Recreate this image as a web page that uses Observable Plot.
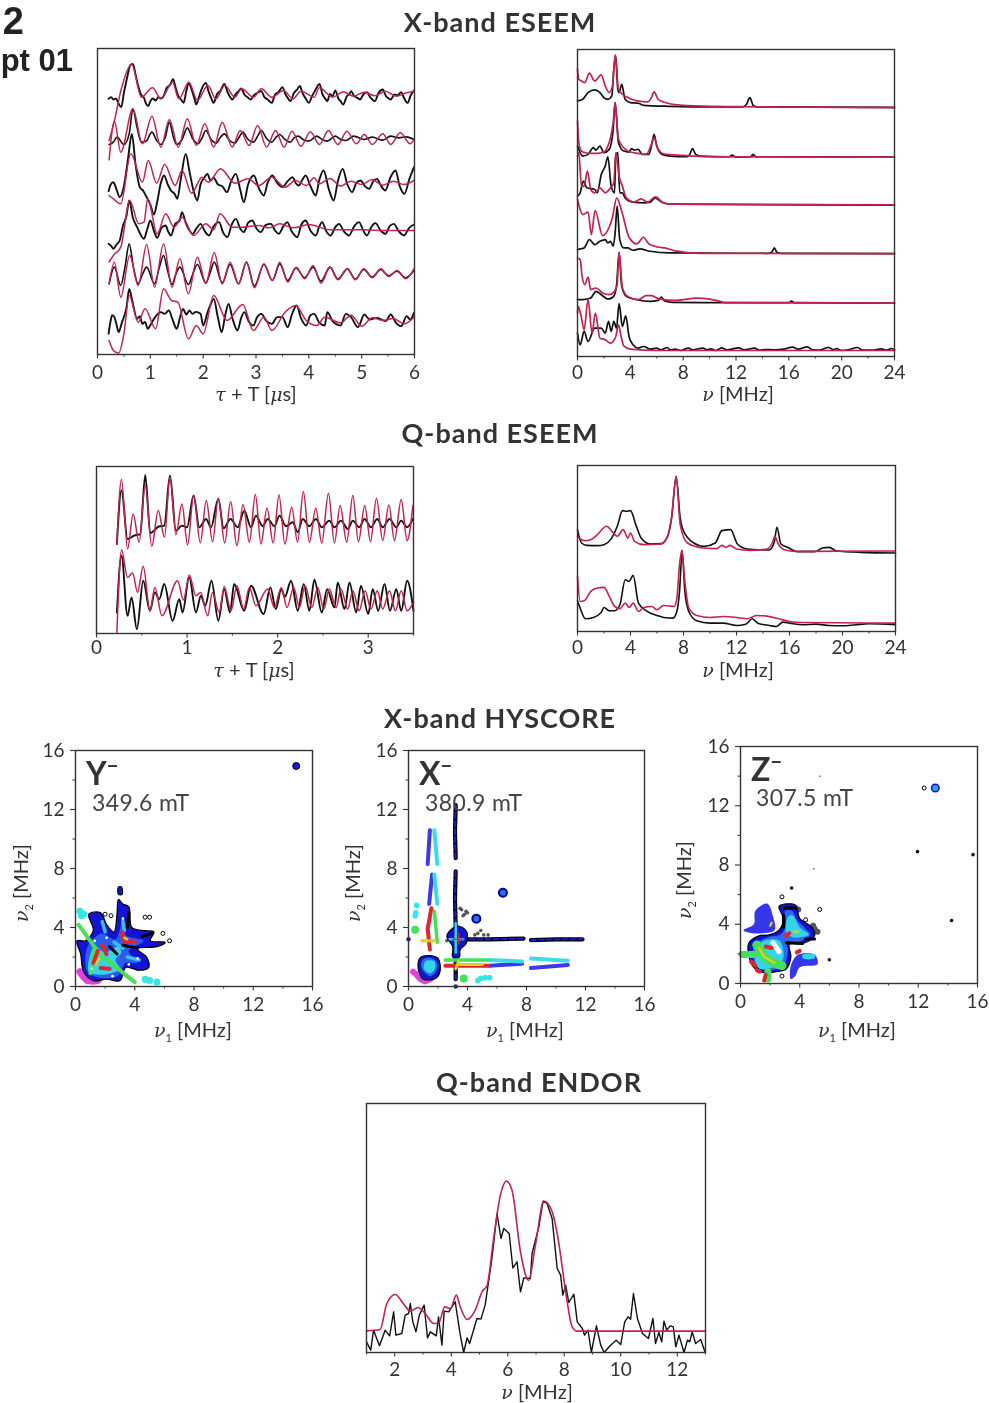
<!DOCTYPE html>
<html><head><meta charset="utf-8">
<script src="https://cdn.jsdelivr.net/npm/d3@7"></script>
<script src="https://cdn.jsdelivr.net/npm/@observablehq/plot@0.6"></script>
<style>
html,body{margin:0;padding:0;background:#fff;width:989px;height:1403px;overflow:hidden}
#page{position:relative;width:989px;height:1403px;overflow:hidden;font-family:Lato,sans-serif;color:#333;filter:blur(.4px)}
#page svg{position:absolute;background:transparent;overflow:visible}
.t{position:absolute;white-space:nowrap;line-height:1}
.title{font-size:27px;font-weight:700;color:#333;transform:translateX(-50%);letter-spacing:1px}
.lab{font-size:20px;color:#333;transform:translateX(-50%)}
.lab i{font-family:"DejaVu Serif","Liberation Serif",serif;font-size:19px}
.lab sub{font-size:11px;vertical-align:-5px}
.rot{transform:translate(-50%,-50%) rotate(-90deg)}
.big{font-size:32px;font-weight:700;color:#333}
.big sup{font-size:20px;vertical-align:12px;line-height:0}
.field{font-size:23px;color:#444;letter-spacing:.4px}
</style></head><body><div id="page"></div>
<script>
// ---------- X-band ESEEM time traces [tau+T us, intensity] ----------
const aBlack1=[.21,767,.26,772,.3,765,.35,768,.4,752,.45,742,.5,785,.56,830,.62,868,.67,872,.72,840,.78,800,.83,778,.88,770,.92,752,.96,745,1,760,1.05,768,1.1,762,1.15,772,1.2,768,1.26,778,1.31,800,1.37,808,1.43,826,1.48,800,1.53,775,1.58,765,1.63,755,1.68,790,1.73,815,1.78,795,1.83,770,1.87,750,1.92,772,1.98,800,2.05,815,2.1,790,2.15,770,2.2,755,2.26,780,2.33,792,2.4,812,2.46,788,2.5,775,2.55,765,2.62,782,2.67,790,2.72,798,2.78,780,2.84,772,2.9,765,2.96,778,3.03,785,3.1,790,3.16,772,3.22,765,3.3,755,3.36,780,3.43,788,3.5,802,3.56,780,3.6,770,3.65,760,3.72,785,3.78,795,3.83,806,3.88,785,3.94,768,4,755,4.06,775,4.13,795,4.2,812,4.26,780,4.3,770,4.35,760,4.4,782,4.45,775,4.5,792,4.56,768,4.6,760,4.65,750,4.72,775,4.77,782,4.8,790,4.86,775,4.92,770,4.97,765,5.03,780,5.1,787,5.16,772,5.2,765,5.25,760,5.32,785,5.4,795,5.46,775,5.5,770,5.55,765,5.62,780,5.68,778,5.75,787,5.8,770,5.87,755,5.93,778,5.99,792];
const aRed1=[.22,642,.32,700,.44,790,.65,870,.83,772,1.04,800,1.2,767,1.42,817,1.54,767,1.73,817,1.89,762,2.09,807,2.24,767,2.41,807,2.6,772,2.73,797,2.95,772,3.1,797,3.3,772,3.52,792,3.7,767,3.85,790,4.1,772,4.2,800,4.45,772,4.65,788,4.85,775,5.05,787,5.25,776,5.45,790,5.65,775,5.85,785,5.99,790];
const aBlack2=[.22,630,.3,637,.37,652,.5,630,.6,662,.67,737,.75,680,.83,637,.92,640,1.03,667,1.12,642,1.2,630,1.28,650,1.36,697,1.44,650,1.5,630,1.6,645,1.7,680,1.8,648,1.9,632,1.98,650,2.05,672,2.15,645,2.25,634,2.32,650,2.4,662,2.5,642,2.6,634,2.68,652,2.75,667,2.85,645,2.95,637,3.03,655,3.1,672,3.2,648,3.3,637,3.38,652,3.45,660,3.55,645,3.65,637,3.72,650,3.8,655,3.9,644,4,640,4.15,655,4.25,645,4.35,640,4.5,655,4.6,646,4.7,642,4.85,655,5.05,645,5.2,652,5.4,643,5.55,655,5.7,650,5.85,653,5.99,645];
const aRed2=[.22,584,.32,700,.44,607,.67,737,.85,632,1.03,715,1.2,622,1.36,705,1.53,622,1.7,707,1.87,627,2.03,692,2.2,622,2.36,697,2.55,622,2.7,672,2.87,627,3.03,687,3.2,622,3.37,672,3.53,622,3.68,670,3.85,625,4.03,668,4.2,630,4.37,672,4.55,630,4.72,670,4.9,632,5.05,660,5.2,630,5.4,662,5.55,630,5.73,665,5.92,632,5.99,645];
const aBlack3=[.21,490,.25,510,.3,517,.35,500,.42,472,.5,505,.58,590,.65,662,.72,570,.8,502,.87,490,.93,472,1,450,1.07,420,1.12,450,1.2,515,1.26,537,1.33,510,1.4,490,1.46,482,1.51,467,1.58,530,1.67,602,1.74,550,1.82,490,1.89,462,1.95,510,2.02,530,2.08,542,2.14,522,2.2,530,2.28,510,2.36,505,2.45,487,2.53,520,2.62,542,2.7,495,2.77,457,2.85,510,2.96,537,3.05,500,3.15,477,3.22,515,3.31,537,3.4,515,3.5,502,3.6,520,3.69,532,3.75,515,3.81,507,3.88,525,3.94,537,4.03,505,4.13,477,4.2,525,4.28,552,4.38,495,4.47,462,4.55,520,4.64,557,4.73,510,4.82,487,4.9,515,4.98,522,5.06,505,5.14,497,5.22,520,5.29,527,5.37,505,5.45,492,5.54,530,5.64,552,5.72,505,5.81,482,5.9,525,5.99,562];
const aRed3=[.22,477,.3,467,.44,452,.63,602,.85,517,.96,582,1.12,514,1.27,570,1.47,507,1.6,552,1.78,484,1.98,532,2.1,517,2.33,557,2.6,514,2.85,527,3.05,507,3.3,532,3.55,502,3.75,522,3.95,507,4.1,530,4.2,512,4.4,528,4.6,505,4.8,520,5,510,5.2,525,5.4,508,5.6,520,5.8,510,5.99,522];
const aBlack4=[.21,332,.26,325,.3,317,.36,330,.42,342,.48,385,.55,417,.6,462,.67,410,.75,382,.8,365,.88,347,.94,375,1,402,1.07,370,1.13,350,1.21,380,1.29,387,1.34,368,1.39,357,1.47,392,1.55,400,1.6,427,1.67,395,1.73,375,1.8,362,1.88,380,1.95,392,2.03,370,2.11,357,2.2,385,2.3,397,2.38,365,2.46,352,2.54,390,2.62,407,2.7,378,2.77,367,2.85,395,2.93,402,3.01,378,3.09,367,3.18,388,3.28,392,3.36,372,3.43,362,3.52,385,3.59,397,3.68,368,3.78,352,3.86,390,3.94,402,4.03,372,4.13,357,4.2,385,4.25,397,4.33,370,4.41,357,4.5,382,4.57,392,4.67,368,4.76,357,4.86,385,4.95,397,5.03,372,5.1,357,5.18,382,5.26,394,5.36,372,5.45,362,5.53,385,5.61,392,5.7,370,5.8,357,5.9,380,5.99,390];
const aRed4=[.22,277,.3,297,.44,322,.61,462,.78,392,.88,397,.95,467,1.13,362,1.29,422,1.45,382,1.6,412,1.82,357,2.05,392,2.2,374,2.32,422,2.55,382,2.75,382,3.05,387,3.25,380,3.45,392,3.7,380,4,390,4.4,374,5,374,5.5,372,5.99,372];
const aBlack5=[.22,212,.32,262,.44,207,.52,262,.6,332,.68,262,.77,212,.85,240,.93,262,1.08,212,1.16,255,1.25,297,1.33,250,1.41,210,1.48,240,1.56,262,1.72,210,1.8,240,1.89,270,2.05,214,2.13,245,2.21,277,2.36,215,2.51,270,2.67,212,2.82,277,2.97,205,3.15,270,3.31,222,3.45,272,3.6,222,3.76,260,3.92,230,4.08,262,4.23,220,4.4,262,4.55,226,4.73,257,4.88,226,5.04,255,5.2,232,5.36,255,5.51,236,5.67,250,5.83,230,5.99,252];
const aRed5=[.22,212,.32,277,.44,172,.61,297,.77,207,.93,330,1.08,202,1.25,332,1.41,202,1.56,287,1.72,182,1.89,292,2.05,214,2.21,305,2.36,212,2.51,277,2.67,212,2.82,277,2.97,200,3.15,272,3.31,222,3.45,277,3.6,217,3.76,262,3.92,227,4.08,267,4.23,214,4.4,262,4.55,224,4.73,257,4.88,224,5.04,257,5.2,230,5.36,257,5.51,234,5.67,252,5.83,227,5.99,257];
const aBlack6=[.21,62,.25,102,.28,118,.32,112,.36,90,.4,67,.46,95,.55,142,.6,197,.66,160,.75,107,.8,115,.85,92,.9,98,.95,77,1,88,1.05,102,1.12,118,1.2,127,1.27,122,1.35,132,1.42,105,1.5,77,1.56,110,1.62,137,1.68,120,1.74,132,1.8,122,1.86,128,1.95,122,2,87,2.08,125,2.14,150,2.2,167,2.28,110,2.35,67,2.42,120,2.48,152,2.56,105,2.65,72,2.72,110,2.78,127,2.86,100,2.95,87,3.02,112,3.1,122,3.2,100,3.3,92,3.4,112,3.5,112,3.6,82,3.68,120,3.77,147,3.85,110,3.95,87,4.03,118,4.1,122,4.2,95,4.3,87,4.35,127,4.45,100,4.6,87,4.7,122,4.8,112,4.93,82,5.05,120,5.15,105,5.3,110,5.45,100,5.55,120,5.65,95,5.75,85,5.85,115,5.92,105,5.99,125];
const aRed6=[.22,42,.3,12,.4,4,.5,62,.6,177,.77,97,.9,137,1.1,77,1.25,197,1.4,162,1.52,157,1.72,47,1.87,87,2,62,2.2,177,2.45,102,2.75,150,2.95,72,3.15,112,3.3,72,3.55,127,3.75,147,3.95,102,4.15,87,4.3,112,4.6,95,4.8,118,5,85,5.2,110,5.4,102,5.6,108,5.8,92,5.99,112];
// ---------- X-band ESEEM spectra [MHz, intensity] ----------
const bBlack1=[0,765,.4,770,.8,790,1.3,798,1.7,790,2,775,2.3,770,2.6,780,2.75,860,2.9,900,3.05,800,3.15,790,3.35,815,3.6,770,4,760,4.6,758,5,752,7,749,10,747,12.5,747,12.8,755,13.05,775,13.3,752,13.6,747,24,746];
const bRed1=[0,860,.1,830,.3,825,.55,820,.9,848,1.3,825,1.8,843,2.1,810,2.4,790,2.65,810,2.85,903,3.1,800,3.4,785,3.8,775,4.5,765,5.3,762,5.6,775,5.8,792,6.1,770,6.5,762,8,752,12,748,24,745];
const bBlack2=[0,630,.4,600,.8,605,1.2,625,1.4,618,1.7,630,2,610,2.4,620,2.7,680,2.85,760,3.1,640,3.5,615,3.9,612,4.1,622,4.3,618,4.6,620,4.9,605,5.4,605,5.65,640,5.8,665,6,630,6.4,605,7,600,8.3,598,8.5,605,8.7,622,8.95,605,9.3,600,11.5,598,11.7,603,12,597,13.1,598,13.3,605,13.5,598,24,597];
const bRed2=[0,705,.1,640,.3,615,.6,610,1,608,1.5,608,2,612,2.3,630,2.5,655,2.7,700,2.85,760,3.1,650,3.5,625,4,612,4.6,608,5.2,605,5.6,635,5.8,655,6.05,625,6.5,607,8,602,10,598,24,597];
const bBlack3=[0,480,.2,490,.45,525,.7,505,1.3,500,1.5,490,1.8,545,2.1,570,2.3,598,2.55,510,2.8,490,2.9,600,3.05,610,3.2,490,3.4,490,3.6,475,4.2,462,5,460,5.5,462,5.9,475,6.1,470,6.5,460,7,456,24,453];
const bRed3=[0,600,.1,610,.3,510,.5,510,.75,555,1,500,1.3,490,1.7,505,2.1,490,2.5,505,2.75,520,2.9,610,3.15,540,3.4,510,3.7,475,4.3,462,4.8,472,5.3,462,5.9,478,6.5,460,7.2,456,24,454];
const bBlack4=[0,320,.2,322,.5,325,.9,350,1.3,335,1.7,345,2.1,350,2.3,340,2.5,345,2.7,330,2.85,370,3,450,3.2,350,3.5,325,3.8,325,4.2,318,4.7,322,5.5,315,7,310,14.4,309,14.7,312,14.9,325,15.1,312,15.4,309,24,308];
const bRed4=[0,470,.2,440,.4,425,.8,432,1.05,365,1.33,437,1.9,362,2.4,387,2.65,417,2.97,475,3.4,427,3.9,357,4.5,337,5,357,5.4,337,6.2,327,6.6,325,7.3,317,9.3,309,24,308];
const bBlack5=[0,170,.7,172,1,175,1.4,195,1.8,185,2.3,172,2.7,178,2.95,210,3.15,312,3.35,210,3.7,180,4.5,170,5.5,165,6.1,168,6.35,178,6.6,166,7.2,162,16,161,16.2,166,16.4,161,24,160];
const bRed5=[0,295,.2,290,.35,240,.55,215,.8,238,1,200,1.4,205,1.9,190,2.4,185,2.8,195,3,215,3.15,312,3.4,205,3.8,180,4.6,170,5.2,182,5.6,182,6.2,172,7.5,168,9,175,10,172,10.8,165,11.2,161,24,160];
const bBlack6=[0,70,.2,35,.5,75,.8,45,1.3,85,1.8,85,2.1,70,2.35,105,2.55,75,2.75,105,2.95,85,3.15,158,3.4,90,3.65,122,3.9,60,4.2,35,4.6,25,5,30,5.5,22,6,25,6.3,20,6.8,27,7,20,7.4,22,7.8,18,8.4,25,8.7,20,9.5,25,9.8,20,10.1,23,10.5,18,10.9,26,11.3,20,12.2,26,12.6,20,13.4,25,13.8,19,14.2,21,14.9,20,15.6,22,16.3,28,16.7,22,17.4,29,17.8,20,18.3,19,19,27,19.4,20,19.6,24,20,18,20.6,21,21.2,27,21.6,19,22.3,19,23,23,23.4,19,23.8,24,24,20];
const bRed6=[0,130,.05,150,.25,125,.5,80,.8,170,1.1,70,1.35,130,1.7,55,2.1,50,2.5,40,2.9,60,3.1,95,3.3,60,3.5,32,4,22,6,18,24,18];
// ---------- Q-band ESEEM time traces ----------
const cBlack1=[.225,268,.276,428,.343,283,.416,293,.483,298,.538,475,.593,301,.693,321,.748,323,.811,473,.877,308,.943,323,1,318,1.072,413,1.135,318,1.21,343,1.264,318,1.345,403,1.404,315,1.48,343,1.558,318,1.632,368,1.706,318,1.76,353,1.835,321,1.89,343,1.964,321,2.02,353,2.093,321,2.166,333,2.222,303,2.277,343,2.35,321,2.424,343,2.487,318,2.57,338,2.627,318,2.7,338,2.774,313,2.83,338,2.9,318,2.96,343,3.03,318,3.1,343,3.16,318,3.235,343,3.31,318,3.364,338,3.43,318,3.493,343];
const cRed1=[.225,268,.276,461,.343,253,.405,358,.47,273,.538,443,.61,261,.682,368,.75,288,.811,468,.877,296,.943,388,1.006,265,1.072,413,1.146,271,1.212,398,1.282,275,1.345,406,1.415,271,1.481,395,1.55,263,1.618,386,1.688,273,1.754,416,1.816,268,1.883,376,1.95,271,2.015,415,2.08,268,2.155,378,2.22,273,2.284,425,2.35,273,2.421,375,2.487,271,2.561,420,2.627,271,2.69,383,2.763,273,2.83,413,2.892,275,2.962,383,3.025,275,3.091,405,3.16,278,3.228,385,3.29,278,3.364,401,3.43,278,3.493,383];
const cBlack2=[.225,63,.276,233,.343,53,.387,108,.446,13,.516,158,.59,68,.645,123,.693,103,.748,148,.84,38,.914,103,.95,63,1.024,168,1.098,63,1.153,113,1.2,83,1.27,158,1.345,38,1.41,133,1.474,63,1.52,148,1.63,68,1.706,143,1.846,58,1.92,138,1.98,73,2.04,133,2.08,110,2.148,158,2.222,68,2.288,148,2.35,68,2.406,161,2.487,63,2.546,133,2.627,78,2.664,153,2.738,73,2.793,153,2.867,63,2.92,143,3,58,3.05,133,3.11,68,3.18,148,3.24,68,3.31,133,3.364,68,3.43,158,3.5,68];
const cRed2=[.225,3,.276,251,.343,168,.398,181,.453,123,.516,201,.59,68,.645,138,.722,53,.895,158,.96,100,1.024,175,1.098,113,1.15,123,1.227,53,1.28,123,1.356,63,1.41,141,1.485,68,1.55,143,1.625,73,1.688,138,1.76,83,1.89,133,1.964,78,2.04,138,2.104,78,2.178,138,2.24,78,2.303,143,2.377,78,2.443,138,2.51,73,2.57,133,2.645,78,2.7,133,2.774,73,2.83,128,2.9,68,2.966,128,3.03,73,3.1,128,3.16,73,3.235,128,3.3,68,3.364,128,3.43,68,3.5,93];
// ---------- Q-band ESEEM spectra ----------
const dBlack1=[0,305,.3,265,.7,258,1.5,257,2,260,2.5,275,3,315,3.4,362,3.7,360,4,362,4.4,320,4.8,280,5.5,262,6.3,263,6.8,285,7.1,340,7.45,463,7.75,340,7.9,312,8.53,272,9.55,255,10.4,265,10.9,302,11.56,305,12.07,262,12.83,247,14.47,244,14.85,267,15.05,312,15.35,262,15.86,252,16.6,239,17.9,239,18.5,250,19,252,19.5,242,21.4,237,24,235];
const dRed1=[0,285,.5,272,1,275,1.5,290,2.2,315,2.6,300,3,285,3.45,305,3.8,280,4,295,4.3,270,5,260,6.3,262,6.8,285,7.1,340,7.45,465,7.75,320,8.3,265,9.5,250,10.5,248,10.9,258,11.2,252,11.5,258,12,247,13,243,14.3,247,14.7,265,14.9,285,15.15,262,15.6,245,16.5,240,24,241];
const dBlack2=[0,92,.2,70,.6,38,1.2,42,1.8,58,2,72,2.4,62,2.8,62,3.2,80,3.6,155,3.9,150,4.2,168,4.6,85,5.2,62,6,48,6.5,42,7.2,40,7.5,60,7.7,120,7.9,242,8.1,120,8.4,60,9,32,10,25,11,25,12,18,12.7,22,13.2,38,13.6,25,14.5,18,15,15,15.5,28,16,25,17,20,18,22,19,18,20,17,21,20,22,23,24,20];
const dRed2=[0,165,.2,90,.5,92,1,120,1.5,130,2,132,2.4,105,2.8,75,3.2,68,3.6,85,3.9,72,4.2,85,4.6,60,5,72,5.6,75,6,65,6.5,78,7.3,75,7.5,100,7.7,200,7.87,243,8.1,150,8.4,70,9,48,10,42,11,45,12,42,12.8,38,13.5,48,14.3,46,15.2,38,16,30,17,27,24,25];
// ---------- Q-band ENDOR ----------
const eBlack=[1,32,1.15,7,1.25,67,1.46,20,1.66,67,1.82,50,1.96,122,2.04,52,2.25,57,2.37,112,2.49,117,2.55,147,2.64,92,2.75,62,2.87,112,3.04,142,3.16,44,3.26,62,3.47,50,3.55,107,3.67,22,3.75,124,3.91,122,4.14,152,4.32,52,4.44,0,4.56,44,4.65,27,4.91,102,5.05,100,5.2,142,5.44,282,5.62,417,5.76,342,5.86,372,6.05,357,6.18,254,6.33,272,6.45,182,6.57,224,6.8,222,6.86,297,7.1,377,7.25,454,7.39,447,7.57,402,7.75,252,7.87,232,7.95,172,8.05,202,8.16,150,8.34,175,8.46,92,8.64,72,8.72,52,8.84,67,8.96,0,9.14,80,9.29,22,9.41,0,9.64,22,9.84,37,10,24,10.14,92,10.26,107,10.35,100,10.45,177,10.59,102,10.77,57,10.98,42,11.14,102,11.23,27,11.35,60,11.45,32,11.53,94,11.63,67,11.75,80,11.86,77,11.95,17,12.06,52,12.24,0,12.36,37,12.44,32,12.53,62,12.65,27,12.83,39,12.98,2];
const eRed=[1,65,1.48,69,1.72,147,2.02,174,2.3,147,2.55,124,2.82,135,3.08,117,3.38,87,3.55,87,3.77,137,3.97,132,4.18,172,4.3,142,4.56,99,4.85,127,5.09,182,5.27,202,5.5,342,5.74,472,5.95,514,6.15,487,6.45,302,6.74,216,6.98,322,7.28,454,7.57,422,7.8,332,8.05,182,8.28,77,8.46,64,13,64];
// ---------- HYSCORE contours and ridges [nu1, nu2 MHz] ----------
const yOuter=[[[.67,3.1],[1.2,3.8],[.9,4.9],[1.7,5],[2.1,4.2],[2.6,3.7],[2.8,4.9],[2.9,5.9],[3.2,5.6],[3.6,5.4],[3.8,4],[4.5,3.8],[5.3,3.7],[5.05,3.1],[6.05,3],[5.5,2.7],[4.15,2.55],[4.8,2],[4.95,1.3],[4.3,1.1],[3.4,1.3],[3,.4],[2.1,.5],[1.2,.4],[.55,1],[.35,2.2],[.1,3.1]],[[2.9,6.75],[3.1,6.75],[3.15,6.25],[2.9,6.25]]];
const yMid=[[[.8,1],[.7,2.3],[1,3],[1.8,3.6],[2.7,3.2],[3.2,4.5],[3.4,3.5],[4.6,3.1],[3.6,2.4],[4.2,1.6],[3.4,1.6],[2.8,.7],[1.6,.6]]];
const yCyan=[[[.9,1],[.95,2],[1.3,2.7],[2,2.3],[2.9,2.7],[3.1,2.3],[2.7,1.8],[3,1.2],[2.4,.9],[1.5,.8]]];
const ySpots=[[.3,5.1],[.4,4.8],[.55,4.9],[4.7,.5],[5,.4],[5.5,.3]];
const yMagenta=[[[.3,1],[.5,.7],[.8,.4],[1.2,.35],[1.5,.4]]];
const yGreen=[[.2,4.2],[.7,3.5],[1.2,2.8],[1.7,2.1],[2.4,1.6],[3,1.1],[3.6,.6],[4,.3]];
const yGreenLoop=[[1,.9],[1.2,1.6],[1.3,2.6]];
const yRed=[[[1.2,1.6],[1.5,2.4]],[[1.8,2.8],[2.1,2.2]],[[1.7,1.25],[2.3,1.2]],[[3.15,3.7],[3.25,3.1],[4,3]]];
const yYellow=[[[3.3,3.3],[3.5,3.2]],[[1.4,1.5],[1.6,1.9]]];
const yBlackStreaks=[[[3.6,5],[3.5,4]],[[4.5,3.4],[5.2,3.6]],[[3.2,2.8],[4.2,2.6]],[[2.3,2.7],[2.8,2.2]]];
const yLightPatches=[[[3.2,4.4],[3.3,3.8]],[[2.6,3],[3.2,2.6]],[[3.5,2],[4.3,1.8]],[[1.8,4.4],[2,3.7]]];
const yHoles=[[1.1,1.2],[1.3,3.1],[3.2,4.6],[2.1,3.3],[4.2,1.9],[3.6,1.5],[2.5,.7]];
const yRings=[[4.7,4.7],[5,4.7],[5.9,3.6],[6.35,3.1],[2,4.9],[2.4,4.8]];
const yPeak=[[14.9,14.95]];
const xBlue=[[[.65,1.3],[.8,1.95],[1.4,2.1],[2,1.9],[2.15,1.1],[1.9,.6],[1,.5]],[[2.6,3.4],[3,3.95],[3.4,4.1],[3.95,3.7],[3.9,2.9],[3.5,2.5],[3.45,2],[3,2],[3,2.7]]];
const xMidBlob=[[[.9,1.2],[.95,1.8],[1.4,1.95],[1.9,1.7],[1.9,1.1],[1.5,.7]]];
const xCyanBlob=[[[1.05,1.2],[1.15,1.7],[1.75,1.7],[1.75,1.1],[1.4,.9]]];
const xVert1=[[3.2,12.3],[3.15,10.5],[3.2,8.7]];
const xVert2=[[3.2,7.8],[3.15,6],[3.2,4]];
const xHoriz1=[[3.6,3.2],[5.5,3.2],[7.8,3.25]];
const xHoriz2=[[8.3,3.15],[10,3.2],[11.8,3.2]];
const xBlueRidges=[[[1.45,10.6],[1.3,8.3]],[[1.6,7.6],[1.4,5.6]],[[5.5,1.4],[7.7,1.55]],[[8.3,1.25],[10.8,1.45]]];
const xCyanRidges=[[[1.75,10.6],[1.95,8.3]],[[1.75,7.6],[1.95,5.6]],[[5.5,1.8],[7.7,1.7]],[[8.3,1.9],[10.8,1.75]]];
const xRedRidges=[[[1.55,5.3],[1.3,3.9],[1.45,2.5]],[[2.5,1.4],[5.4,1.4]]];
const xGreenRidges=[[[1.75,5.1],[1.95,3]],[[2.5,1.8],[5.4,1.8]]];
const xYellow=[[[.9,3.1],[1.8,3.1]],[[3.2,1.2],[3.4,1.7]],[[3.4,1.5],[5,1.5]]];
const xCross=[[[2.8,3.2],[3.7,3.2]],[[3.2,2.3],[3.2,4.3]]];
const xRedCross=[[[3,3.2],[3.7,3.2]],[[3.4,2.9],[3.4,3.6]]];
const xStem=[[3.2,.5],[3.2,2]];
const xMagenta=[[[.3,1],[.5,.85],[.8,.5],[1.1,.35],[1.5,.5]]];
const xCyanSpots=[[.5,5],[.45,4.8],[.55,5.5],[4.7,.4],[4.9,.55],[5.2,.6],[5.5,.6]];
const xGreenSpots=[[.45,3.85],[3.75,.55]];
const xGrey=[[3.6,5.2],[3.9,5.1],[3.8,4.9],[4,5],[3.5,5.3],[3.7,4.8],[4.7,3.6],[4.9,3.8],[5.1,3.5],[4.5,3.5],[5.4,3.5],[2.6,3.1]];
const xPeaks=[[6.4,6.35],[4.6,4.6]];
const xEdge=[[0,3.2],[3.2,0]];
const zOuter=[[[.55,2.7],[.8,1.2],[1.5,.75],[2.4,.8],[3.1,1],[3.4,1.8],[3.3,2.65],[4.2,2.7],[5,3.2],[4.8,3.8],[4,4.4],[3.7,5.3],[2.6,5.2],[2.9,4.4],[2.6,3.6],[2,3.3],[1.2,3.2]]];
const zMid=[[[.9,2.5],[1,1.3],[1.6,.9],[2.5,1],[3,1.4],[3.2,2.3],[3.1,2.8],[3.9,2.8],[4.7,3.3],[4.4,3.7],[3.8,4.3],[3.5,4.9],[3,4.9],[3.1,4],[2.7,3.3],[1.8,3.1]]];
const zBlue=[[[.2,3.6],[.9,4],[1,4.9],[1.8,5.4],[2.2,4.5],[2.3,3.6],[1.5,3.4],[.8,3.4]],[[3.4,1.2],[3.9,1.95],[5,1.95],[5.2,1.3],[4,1.1],[3.7,.5],[3.4,.3]]];
const zCyan=[[[3.1,3.4],[3.2,4.5],[3.5,4.6],[4,3.8],[4.6,3.3],[3.7,3.1]],[[1,1.5],[1.3,1],[2.2,1.1],[2.8,1.5],[2.9,2.2],[2.6,2.9],[1.6,2.9],[1.1,2.4]],[[4.2,1.95],[5,1.95],[5,1.7],[4.2,1.7]]];
const zGreenBand=[[1.1,2.6],[1.6,1.8],[2.2,1.4],[2.8,1.2]];
const zGreenFeet=[[[.1,1.95],[.9,1.95]],[[1.85,.8],[1.85,.3]]];
const zHole=[[2.2,2.75],[2.6,2.15]];
const zRed=[[[.7,1.5],[1,1.2]],[[1.7,.6],[1.6,.2]],[[1.7,2.5],[2.1,2.4]],[[3.05,3.2],[3.3,3.4]],[[3.8,2.1],[4,2.2]],[[1.1,.9],[1.3,.8]]];
const zYellow=[[[1.25,2.4],[1.6,1.8],[2.3,1.4]],[[2,3.9],[2.1,4.1]],[[3.6,3.5],[3.9,3.5]]];
const zBlack=[[[3.1,2.75],[4.2,2.7]],[[2.9,3.8],[2.9,4.6]],[[3,5.1],[3.7,5.1]],[[4.4,3],[5,3]]];
const zGrey=[[3.4,5.2],[3.7,5.1],[3.9,5],[4.9,3.9],[5,3.7],[5.2,3.5],[2.7,3.3],[3,3]];
const zSmall=[[3.45,6.45],[6,1.6],[11.95,8.9],[15.7,8.7],[14.25,4.25]];
const zTiny=[[5.35,14],[4.95,7.75]];
const zRings=[[2.8,5.85],[5.35,5],[4.4,4.3],[2.8,.5],[12.4,13.2]];
const zPeak=[[13.15,13.2]];
// ---------- axis ticks ----------
const ticksA=[0,1,2,3,4,5,6],minorA=[.5,1.5,2.5,3.5,4.5,5.5];
const ticksC=[0,1,2,3],minorC=[.5,1.5,2.5,3.5];
const ticksNu=[0,4,8,12,16,20,24],minorNu=[2,6,10,14,18,22];
const ticksHy=[0,4,8,12,16],minorHy=[2,6,10,14];
const ticksE=[2,4,6,8,10,12],minorE=[1,3,5,7,9,11,13];

const BLACK="#111",RED="#c4234a",page=document.getElementById("page");
const pairs=f=>d3.range(0,f.length,2).map(i=>({x:f[i],y:f[i+1]}));
const black=(f,w=1.9,curve="monotone-x")=>Plot.line(pairs(f),{x:"x",y:"y",stroke:BLACK,strokeWidth:w,curve});
const red=(f,w=1.5)=>Plot.line(pairs(f),{x:"x",y:"y",stroke:RED,strokeWidth:w,curve:"monotone-x"});
function panel(left,top,w,h,xDom,yDom,xt,xm,pad,marks,yt,ym){
  const ml=50,mr=20,mt=10,mb=32;
  const fig=Plot.plot({width:w+ml+mr,height:h+mt+mb,marginLeft:ml,marginRight:mr,marginTop:mt,marginBottom:mb,
    x:{domain:xDom,label:null},y:{domain:yDom,label:null,axis:yt?undefined:null},
    style:{fontFamily:"Lato,sans-serif",fontSize:"19px",color:"#333"},
    marks:[...marks,
      Plot.frame({stroke:"#333",strokeWidth:1.4}),
      Plot.axisX(xt,{tickSize:4.5,tickPadding:pad,label:null,strokeWidth:1.1}),
      Plot.axisX(xm,{tickSize:2.5,tickFormat:()=>"",label:null,strokeWidth:1}),
      ...(yt?[Plot.axisY(yt,{tickSize:5,tickPadding:6,label:null,strokeWidth:1.1}),
              Plot.axisY(ym,{tickSize:2.5,tickFormat:()=>"",label:null,strokeWidth:1})]:[])]});
  fig.style.left=(left-ml)+"px";fig.style.top=(top-mt)+"px";page.appendChild(fig);
}
function txt(cls,x,y,html){const d=document.createElement("div");d.className="t "+cls;d.style.left=x+"px";d.style.top=y+"px";d.innerHTML=html;page.appendChild(d);}
const XY={x:d=>d[0],y:d=>d[1]};
const fillPolys=(polys,fill,stroke="none",sw=1)=>polys.map(p=>Plot.line(p,{...XY,fill,stroke,strokeWidth:sw,curve:"catmull-rom-closed"}));
const ridges=(list,stroke,w,extra={})=>list.map(p=>Plot.line(p,{...XY,stroke,strokeWidth:w,strokeLinecap:"round",curve:"linear",...extra}));
const dots=(pts,r,fill,stroke="none",sw=1)=>Plot.dot(pts,{...XY,r,fill,stroke,strokeWidth:sw});

// X-band ESEEM
panel(97,48,317,306,[0,6],[0,918],ticksA,minorA,6,[
  black(aBlack1),black(aBlack2,1.6),black(aBlack3),black(aBlack4),black(aBlack5,1.6),black(aBlack6),
  red(aRed1),red(aRed2),red(aRed3),red(aRed4),red(aRed5),red(aRed6)]);
panel(577,49,317,307,[0,24],[0,919],ticksNu,minorNu,4,[
  black(bBlack1,1.7),black(bBlack2,1.7),black(bBlack3,1.7),black(bBlack4,1.7),black(bBlack5,1.7),black(bBlack6,1.7),
  red(bRed1,1.7),red(bRed2,1.7),red(bRed3,1.7),red(bRed4,1.7),red(bRed5,1.7),red(bRed6,1.7)]);
// Q-band ESEEM
panel(96,466,317,167,[0,3.5],[0,500],ticksC,minorC,2,[black(cBlack1),black(cBlack2),red(cRed1),red(cRed2)]);
panel(577,465,318,166,[0,24],[0,497],ticksNu,minorNu,4,[black(dBlack1,1.6),black(dBlack2,1.6),red(dRed1,1.6),red(dRed2,1.6)]);
// HYSCORE Y
panel(75,750,237,236,[0,16],[0,16],ticksHy,minorHy,6,[
  ...ridges(yMagenta,"#e040e0",7),dots(ySpots,3.5,"#35e6e6"),
  ...fillPolys(yOuter,"#1313d4","#000",1.2),...fillPolys(yMid,"#2a5cf0"),...fillPolys(yCyan,"#35d4e8"),
  ...ridges(yLightPatches,"#35c0f0",3.5),
  ...ridges([yGreen,yGreenLoop],"#44e05a",4),...ridges(yRed,"#e0262a",4),...ridges(yYellow,"#e0d020",2.5),...ridges(yBlackStreaks,"#000",3),
  dots(yHoles,1.4,"#fff"),dots(yRings,2,"#fff","#000",1),dots(yPeak,3.5,"#1515e0","#000",1)],ticksHy,minorHy);
// HYSCORE X
panel(408,750,236,236,[0,16],[0,16],ticksHy,minorHy,6,[
  ...ridges(xMagenta,"#e040e0",6),dots(xCyanSpots,2.8,"#35e6e6"),dots(xGreenSpots,4,"#44e05a"),dots(xGrey,1.8,"#555"),
  ...ridges(xBlueRidges,"#3a3ae8",4),...ridges(xCyanRidges,"#3adcec",4),
  ...ridges([xVert1,xVert2,xHoriz1,xHoriz2,xStem],"#000",4.2),...ridges([xVert1,xVert2,xHoriz1,xHoriz2,xStem],"#1a1ad8",2,{strokeDasharray:"5,3"}),
  ...fillPolys(xBlue,"#1313d4","#000",1.2),...fillPolys(xMidBlob,"#2a6cf0"),...fillPolys(xCyanBlob,"#35d4e8"),
  ...ridges(xCross,"#35d4e8",2.5),...ridges(xRedCross,"#d03040",1.5),
  ...ridges(xRedRidges,"#e0262a",4),...ridges(xGreenRidges,"#44e05a",3.5),...ridges(xYellow,"#e0d020",3),
  dots(xPeaks,4,"#2a6cf0","#000c80",2),dots(xEdge,2.2,"#1616c8")],ticksHy,minorHy);
// HYSCORE Z
panel(740,746,237,237,[0,16],[0,16],ticksHy,minorHy,6,[
  dots(zGrey,3,"#555"),...fillPolys(zBlue,"#3636ea"),
  ...fillPolys(zOuter,"#1313d4","#000",1.2),...fillPolys(zMid,"#2a6cf0"),...fillPolys(zCyan,"#35d4e8"),
  ...ridges([zGreenBand],"#44e05a",9),...ridges(zGreenFeet,"#44e05a",7),...ridges([zHole],"#fff",5),...ridges(zBlack,"#000",3),
  ...ridges(zRed,"#e0262a",4),...ridges(zYellow,"#e0d020",2.2),
  dots(zSmall,1.8,"#111"),dots(zTiny,.7,"#111"),dots(zRings,2,"#fff","#000",1),dots(zPeak,3.8,"#2aa0f0","#1515c0",1.5)],ticksHy,minorHy);
// ENDOR
panel(366,1103,339,249,[1,13],[0,747],ticksE,minorE,5,[black(eBlack,1.4,"linear"),red(eRed,1.6)]);

// text
txt("title",500,8,"X-band ESEEM");txt("title",500,419,"Q-band ESEEM");txt("title",500,704,"X-band HYSCORE");txt("title",539,1068,"Q-band ENDOR");
txt("lab",256,383,'<i>τ</i> + T [<i>μ</i>s]');txt("lab",738,383,'<i>ν</i> [MHz]');
txt("lab",254,659,'<i>τ</i> + T [<i>μ</i>s]');txt("lab",738,659,'<i>ν</i> [MHz]');
txt("lab",193,1019,'<i>ν</i><sub>1</sub> [MHz]');txt("lab",525,1019,'<i>ν</i><sub>1</sub> [MHz]');txt("lab",857,1019,'<i>ν</i><sub>1</sub> [MHz]');
txt("lab rot",22,883,'<i>ν</i><sub>2</sub> [MHz]');txt("lab rot",354,883,'<i>ν</i><sub>2</sub> [MHz]');txt("lab rot",685,880,'<i>ν</i><sub>2</sub> [MHz]');
txt("lab",537,1381,'<i>ν</i> [MHz]');
txt("big",86,757,'Y<sup>−</sup>');txt("big",419,757,'X<sup>−</sup>');txt("big",751,753,'Z<sup>−</sup>');
txt("field",92,791,"349.6 mT");txt("field",425,791,"380.9 mT");txt("field",756,786,"307.5 mT");
const head=(right,y,size,s)=>{const d=document.createElement("div");d.className="t";d.style.cssText+=`right:${989-right}px;top:${y}px;font:700 ${size}px "Liberation Sans",Arial,sans-serif;color:#222`;d.textContent=s;page.appendChild(d);};
head(24,0,38,"2");head(73,43,31,"pt 01");
</script></body></html>
